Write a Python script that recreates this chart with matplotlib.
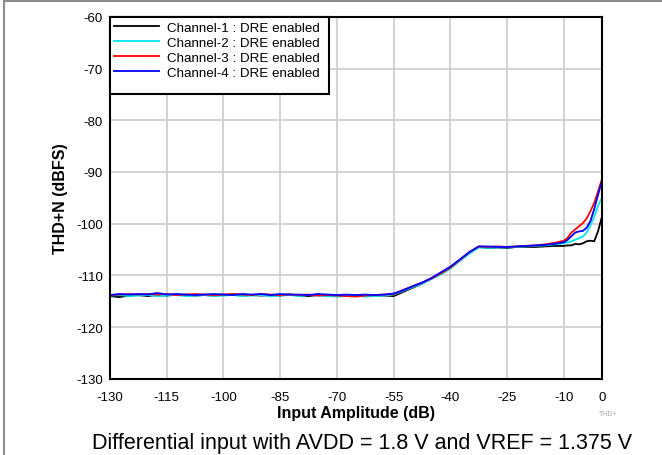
import matplotlib.pyplot as plt
from matplotlib.lines import Line2D
from matplotlib.patches import Rectangle

plt.rcParams['font.family'] = ['Liberation Sans', 'DejaVu Sans']
plt.rcParams['axes.unicode_minus'] = False

# Input amplitude (dB)
x_db = [-130, -127.5, -125, -122.5, -120, -117.5, -115, -112.5, -110, -107.5,
        -105, -102.5, -100, -97.5, -95, -92.5, -90, -87.5, -85, -82.5,
        -80, -77.5, -75, -72.5, -70, -67.5, -65, -62.5, -60, -57.5, -55,
        -52.5, -50, -47.5, -45, -42.5, -40, -37.5, -35, -32.5, -30,
        -27.5, -25, -22.5, -20, -17.5, -15, -12.5, -10,
        -9, -8, -7, -6, -5, -4, -3, -2, -1, 0]

ch1 = [-114.0, -114.2, -113.9, -113.8, -114.0, -113.8, -113.9, -113.7, -113.8, -113.9,
       -113.8, -113.9, -113.8, -113.7, -113.9, -113.8, -113.9, -113.8, -113.9, -113.7,
       -113.9, -114.0, -113.8, -113.9, -114.0, -113.9, -114.0, -113.8, -113.9, -113.9, -114.0,
       -113.2, -112.4, -111.6, -110.6, -109.6, -108.5, -107.1, -105.7, -104.5, -104.7,
       -104.6, -104.7, -104.5, -104.5, -104.5, -104.4, -104.3, -104.3,
       -104.2, -104.2, -103.9, -104.0, -103.8, -103.4, -103.3, -103.4, -101.5, -98.8]

ch2 = [-113.9, -113.8, -114.0, -113.9, -113.8, -114.0, -113.9, -113.8, -114.0, -113.9,
       -113.8, -114.0, -113.9, -113.8, -114.0, -113.9, -113.8, -114.0, -113.9, -113.8,
       -114.0, -113.8, -113.9, -114.0, -114.1, -114.0, -113.9, -114.1, -114.0, -113.9, -113.7,
       -113.0, -112.3, -111.6, -110.7, -109.8, -108.7, -107.2, -105.8, -104.6, -104.7,
       -104.6, -104.6, -104.5, -104.4, -104.3, -104.2, -104.0, -103.8,
       -103.6, -103.4, -103.1, -102.8, -102.5, -101.7, -100.3, -98.7, -96.6, -95.0]

ch3 = [-113.8, -113.7, -113.6, -113.7, -113.6, -113.7, -113.6, -113.8, -113.7, -113.6,
       -113.7, -113.8, -113.7, -113.6, -113.7, -113.8, -113.6, -113.7, -113.8, -113.7,
       -113.8, -113.7, -113.9, -113.8, -113.9, -114.0, -114.1, -113.9, -113.8, -113.7, -113.6,
       -112.8, -112.1, -111.4, -110.6, -109.6, -108.5, -107.0, -105.5, -104.4, -104.5,
       -104.4, -104.5, -104.4, -104.3, -104.2, -104.0, -103.7, -103.3,
       -102.7, -101.7, -101.1, -100.5, -99.9, -99.0, -97.6, -96.0, -93.8, -91.5]

ch4 = [-113.8, -113.6, -113.7, -113.6, -113.7, -113.4, -113.7, -113.6, -113.7, -113.8,
       -113.7, -113.6, -113.7, -113.8, -113.6, -113.7, -113.6, -113.8, -113.6, -113.7,
       -113.7, -113.8, -113.6, -113.7, -113.8, -113.7, -113.8, -113.7, -113.8, -113.7, -113.5,
       -112.9, -112.1, -111.4, -110.5, -109.4, -108.3, -106.9, -105.5, -104.4, -104.4,
       -104.5, -104.5, -104.4, -104.3, -104.2, -104.1, -103.9, -103.6,
       -103.1, -102.4, -101.7, -101.5, -101.4, -100.8, -99.5, -97.2, -94.5, -91.8]

labels = ['Channel-1 : DRE enabled', 'Channel-2 : DRE enabled',
          'Channel-3 : DRE enabled', 'Channel-4 : DRE enabled']
colors = ['black', '#00e5ee', '#ff0000', '#0000ff']

x_ticks = [-130, -115, -100, -85, -70, -55, -40, -25, -10, 0]
y_ticks = [-130, -120, -110, -100, -90, -80, -70, -60]

fig = plt.figure(figsize=(6.62, 4.56), dpi=100)
ax = fig.add_axes([0.166, 0.167, 0.743, 0.794])

for y, c, lab in zip([ch1, ch2, ch3, ch4], colors, labels):
    ax.plot(x_db, y, color=c, linewidth=1.3, label=lab)

ax.set_xlim(-130, 0)
ax.set_ylim(-130, -60)
ax.set_xticks(x_ticks)
ax.set_yticks(y_ticks)
ax.tick_params(length=0, labelsize=9.5)
ax.tick_params(axis='x', pad=9)
ax.tick_params(axis='y', pad=5)
ax.grid(True, color='#d0d0d0', linewidth=1.3)
ax.set_axisbelow(True)
for s in ax.spines.values():
    s.set_linewidth(1.5)
    s.set_color('black')

ax.set_xlabel('Input Amplitude (dB)', fontsize=11.5, fontweight='bold', labelpad=1)
ax.set_ylabel('THD+N (dBFS)', fontsize=11.5, fontweight='bold', labelpad=6)

# legend box drawn separately (extra space below the entries)
ax.add_patch(Rectangle((0, 0.787), 0.445, 0.213, transform=ax.transAxes,
                       facecolor='white', edgecolor='black', linewidth=1.5,
                       zorder=5, clip_on=False))
leg = ax.legend(loc='upper left', bbox_to_anchor=(0.0, 0.998), fontsize=9.6,
                frameon=False, borderpad=0.3, labelspacing=0.2,
                handlelength=3.4, borderaxespad=0, handletextpad=0.55)
leg.set_zorder(6)

fig.text(0.905, 0.088, 'THD+', fontsize=5, color='#aaaaaa')
fig.text(0.547, 0.015, 'Differential input with AVDD = 1.8 V and VREF = 1.375 V',
         fontsize=15.5, ha='center')

# outer frame (top and left edges visible)
fig.add_artist(Line2D([4 / 662, 4 / 662], [0, 1 - 2 / 456], transform=fig.transFigure,
                      color='#8c8c8c', linewidth=1.5))
fig.add_artist(Line2D([4 / 662, 1], [1 - 2 / 456, 1 - 2 / 456], transform=fig.transFigure,
                      color='#8c8c8c', linewidth=1.5))

fig.savefig('out.png', dpi=100)
